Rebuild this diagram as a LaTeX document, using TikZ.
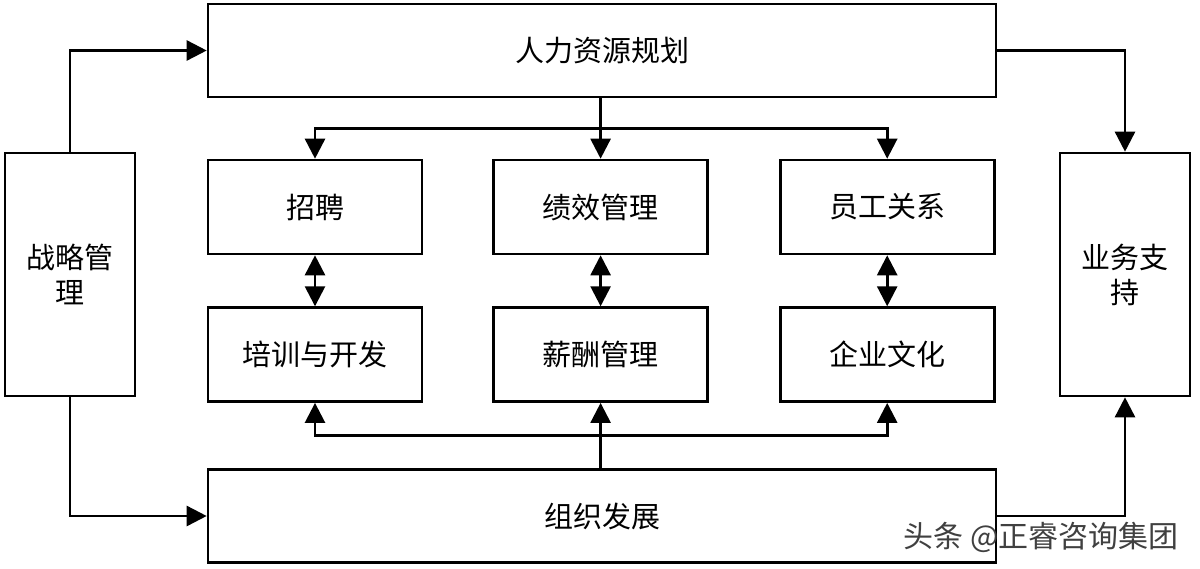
\documentclass[tikz,border=0pt]{standalone}
\usepackage{fontspec}
\setmainfont{Noto Sans CJK SC}
\usepackage{tikz}
\usetikzlibrary{arrows.meta}
\usetikzlibrary{calc,positioning}

\begin{document}
\begin{tikzpicture}[x=0.5pt,y=-0.5pt,line width=1.3pt,>={Triangle[length=10pt,width=10pt]}]
    \tikzstyle{wide}=[rectangle, draw, minimum width=394pt, minimum height=46.5pt, font=\fontsize{14.5}{17.5}\selectfont]
    \tikzstyle{func}=[rectangle, draw, minimum width=107pt, minimum height=47pt, font=\fontsize{14.5}{17.5}\selectfont]
    \tikzstyle{side}=[rectangle, draw, minimum width=65pt, minimum height=121.5pt, align=center, font=\fontsize{14.5}{17.5}\selectfont]

    \fill[white] (0,0) rectangle (1200,568);
    \useasboundingbox (0,0) rectangle (1200,568);

    \node[wide]    (plan) at (602,50.5) {人力资源规划};
    \node[wide]    (org) at (602,516) {组织发展};

    \node[side]    (strategy) at (70,274.5) {战略管\\理};
    \node[side]    (support) at (1125,274.5) {业务支\\持};

    \node[func]    (recruit) at (315,207) {招聘};
    \node[func]    (perf) [right=34.5pt of recruit] {绩效管理};
    \node[func]    (relation) [right=35pt of perf] {员工关系};
    \node[func]    (train) [below=25.5pt of recruit] {培训与开发};
    \node[func]    (salary) [below=25.5pt of perf] {薪酬管理};
    \node[func]    (culture) [below=25.5pt of relation] {企业文化};

    \coordinate (topsplit) at ($(plan.south)!.5!(perf.north)$);
    \coordinate (botsplit) at ($(org.north)!.5!(salary.south)$);

    \draw[->] (plan.south -| perf.north) -- (perf.north);
    \draw[->] (topsplit -| perf.north) -| (recruit.north);
    \draw[->] (topsplit -| perf.north) -| (relation.north);

    \draw[->] (org.north -| salary.south) -- (salary.south);
    \draw[->] (botsplit -| salary.south) -| (train.south);
    \draw[->] (botsplit -| salary.south) -| (culture.south);

    \draw[<->] (recruit) -- (train);
    \draw[<->] (perf) -- (salary);
    \draw[<->] (relation) -- (culture);

    \draw[->] (strategy.north) |- (plan.west);
    \draw[->] (strategy.south) |- (org.west);
    \draw[->] (plan.east) -| (support.north);
    \draw[->] (org.east) -| (support.south);

    \node[text=black!75, font=\fontsize{15}{18}\selectfont] (mark) at (1041,537) {头条 @正睿咨询集团};
\end{tikzpicture}
\end{document}
